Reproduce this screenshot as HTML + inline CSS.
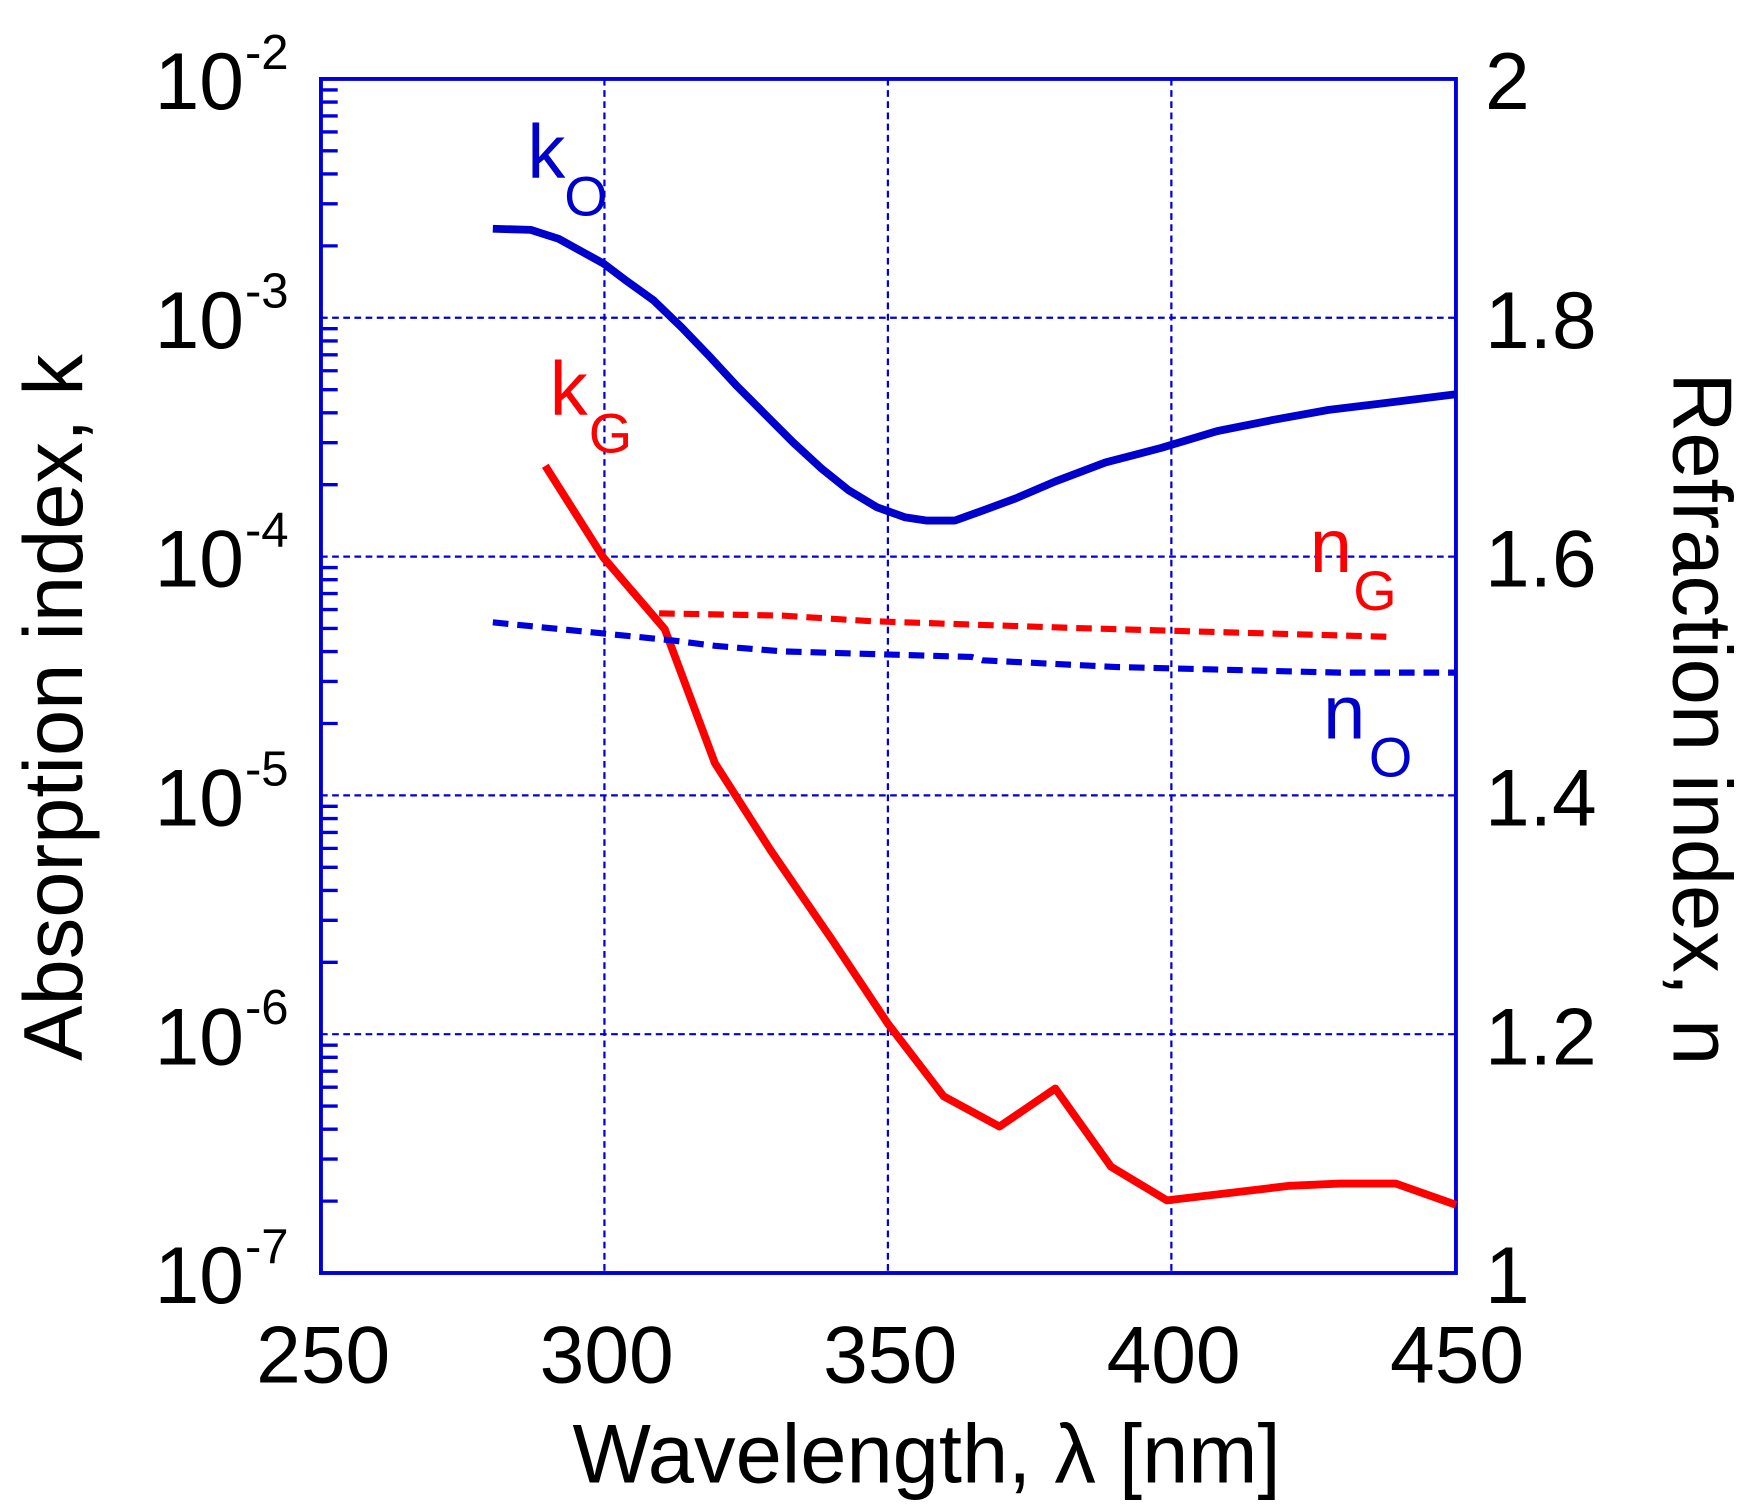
<!DOCTYPE html>
<html><head><meta charset="utf-8"><style>
html,body{margin:0;padding:0;background:#fff;}
svg{display:block;}
text{font-family:"Liberation Sans",Arial,sans-serif;}
</style></head><body>
<svg width="1752" height="1511" viewBox="0 0 1560 1345.4" preserveAspectRatio="none" xmlns="http://www.w3.org/2000/svg">
<rect width="1560" height="1345.4" fill="#fff"/>
<g transform="matrix(0.9937,0,0,0.9955,0.6,0.61)">
<!-- grid -->
<g stroke="#0000dd" stroke-width="2" stroke-dasharray="6,4" fill="none">
<line x1="541" y1="70" x2="541" y2="1138"/>
<line x1="795" y1="70" x2="795" y2="1138"/>
<line x1="1049" y1="70" x2="1049" y2="1138"/>
<line x1="287" y1="283.6" x2="1304" y2="283.6"/>
<line x1="287" y1="497.2" x2="1304" y2="497.2"/>
<line x1="287" y1="710.8" x2="1304" y2="710.8"/>
<line x1="287" y1="924.4" x2="1304" y2="924.4"/>
</g>
<!-- axes -->
<rect x="287" y="70" width="1017" height="1068" fill="none" stroke="#0000dd" stroke-width="3.5"/>
<g stroke="#0000dd" stroke-width="3">
<path d="M287 1073.7h15M287 1036.1h15M287 1009.4h15M287 988.7h15M287 971.8h15M287 957.5h15M287 945.1h15M287 934.2h15
M287 860.1h15M287 822.5h15M287 795.8h15M287 775.1h15M287 758.2h15M287 743.9h15M287 731.5h15M287 720.6h15
M287 646.5h15M287 608.9h15M287 582.2h15M287 561.5h15M287 544.6h15M287 530.3h15M287 517.9h15M287 507h15
M287 432.9h15M287 395.3h15M287 368.6h15M287 347.9h15M287 331h15M287 316.7h15M287 304.3h15M287 293.4h15
M287 219.3h15M287 181.7h15M287 155h15M287 134.3h15M287 117.4h15M287 103.1h15M287 90.7h15M287 79.8h15"/>
</g>
<!-- curves -->
<polyline fill="none" stroke="#0000cc" stroke-width="7" stroke-linejoin="round" points="441,204 475,205 500,213 520,224 540,235 560,250 585,268 610,292 635,318 660,345 685,370 710,395 735,418 760,438 785,453 810,462 830,465 855,465 880,456 910,445 945,430 990,413 1040,400 1090,385 1140,375 1190,366 1240,360 1304,352"/>
<polyline fill="none" stroke="#ff0000" stroke-width="7" stroke-linejoin="round" points="488,416 540,498 595,562 640,682 690,760 745,840 795,915 845,980 895,1007 945,973 995,1043 1045,1073 1155,1060 1200,1058 1250,1058 1304,1077"/>
<polyline fill="none" stroke="#ff0000" stroke-width="5.5" stroke-dasharray="14,8" points="590,548 700,550 780,555 960,561 1100,565 1245,569"/>
<polyline fill="none" stroke="#0000dd" stroke-width="5.5" stroke-dasharray="14,8" points="441,556 540,566 600,572 640,577 700,582 870,587 880,590 1000,596 1200,601 1304,601"/>
<!-- series labels -->
<g font-size="68">
<text x="472" y="158" fill="#0000cc">k</text><text x="505" y="192" font-size="50" fill="#0000cc">O</text>
<text x="492" y="370" fill="#ff0000">k</text><text x="527" y="404" font-size="50" fill="#ff0000">G</text>
<text x="1173" y="511" fill="#ff0000">n</text><text x="1212" y="545" font-size="50" fill="#ff0000">G</text>
<text x="1185" y="660" fill="#0000cc">n</text><text x="1226" y="694" font-size="50" fill="#0000cc">O</text>
</g>
<!-- x tick labels -->
<g font-size="72" text-anchor="middle">
<text x="289" y="1236">250</text><text x="543" y="1236">300</text><text x="797" y="1236">350</text><text x="1051" y="1236">400</text><text x="1305" y="1236">450</text>
</g>
<!-- left tick labels -->
<g font-size="72" text-anchor="end">
<text x="218" y="97">10</text><text x="258" y="61" font-size="44">-2</text>
<text x="218" y="310.6">10</text><text x="258" y="274.6" font-size="44">-3</text>
<text x="218" y="524.2">10</text><text x="258" y="488.2" font-size="44">-4</text>
<text x="218" y="737.8">10</text><text x="258" y="701.8" font-size="44">-5</text>
<text x="218" y="951.4">10</text><text x="258" y="915.4" font-size="44">-6</text>
<text x="218" y="1165">10</text><text x="258" y="1129" font-size="44">-7</text>
</g>
<!-- right tick labels -->
<g font-size="72">
<text x="1330" y="97">2</text>
<text x="1330" y="310.6">1.8</text>
<text x="1330" y="524.2">1.6</text>
<text x="1330" y="737.8">1.4</text>
<text x="1330" y="951.4">1.2</text>
<text x="1330" y="1165">1</text>
</g>
</g>
<!-- axis titles -->
<text x="825" y="1320" font-size="74" text-anchor="middle">Wavelength, λ [nm]</text>
<text transform="translate(73,630) rotate(-90)" font-size="74" text-anchor="middle">Absorption index, k</text>
<text transform="translate(1490,640) rotate(90)" font-size="74" text-anchor="middle">Refraction index, n</text>
</svg>
</body></html>
